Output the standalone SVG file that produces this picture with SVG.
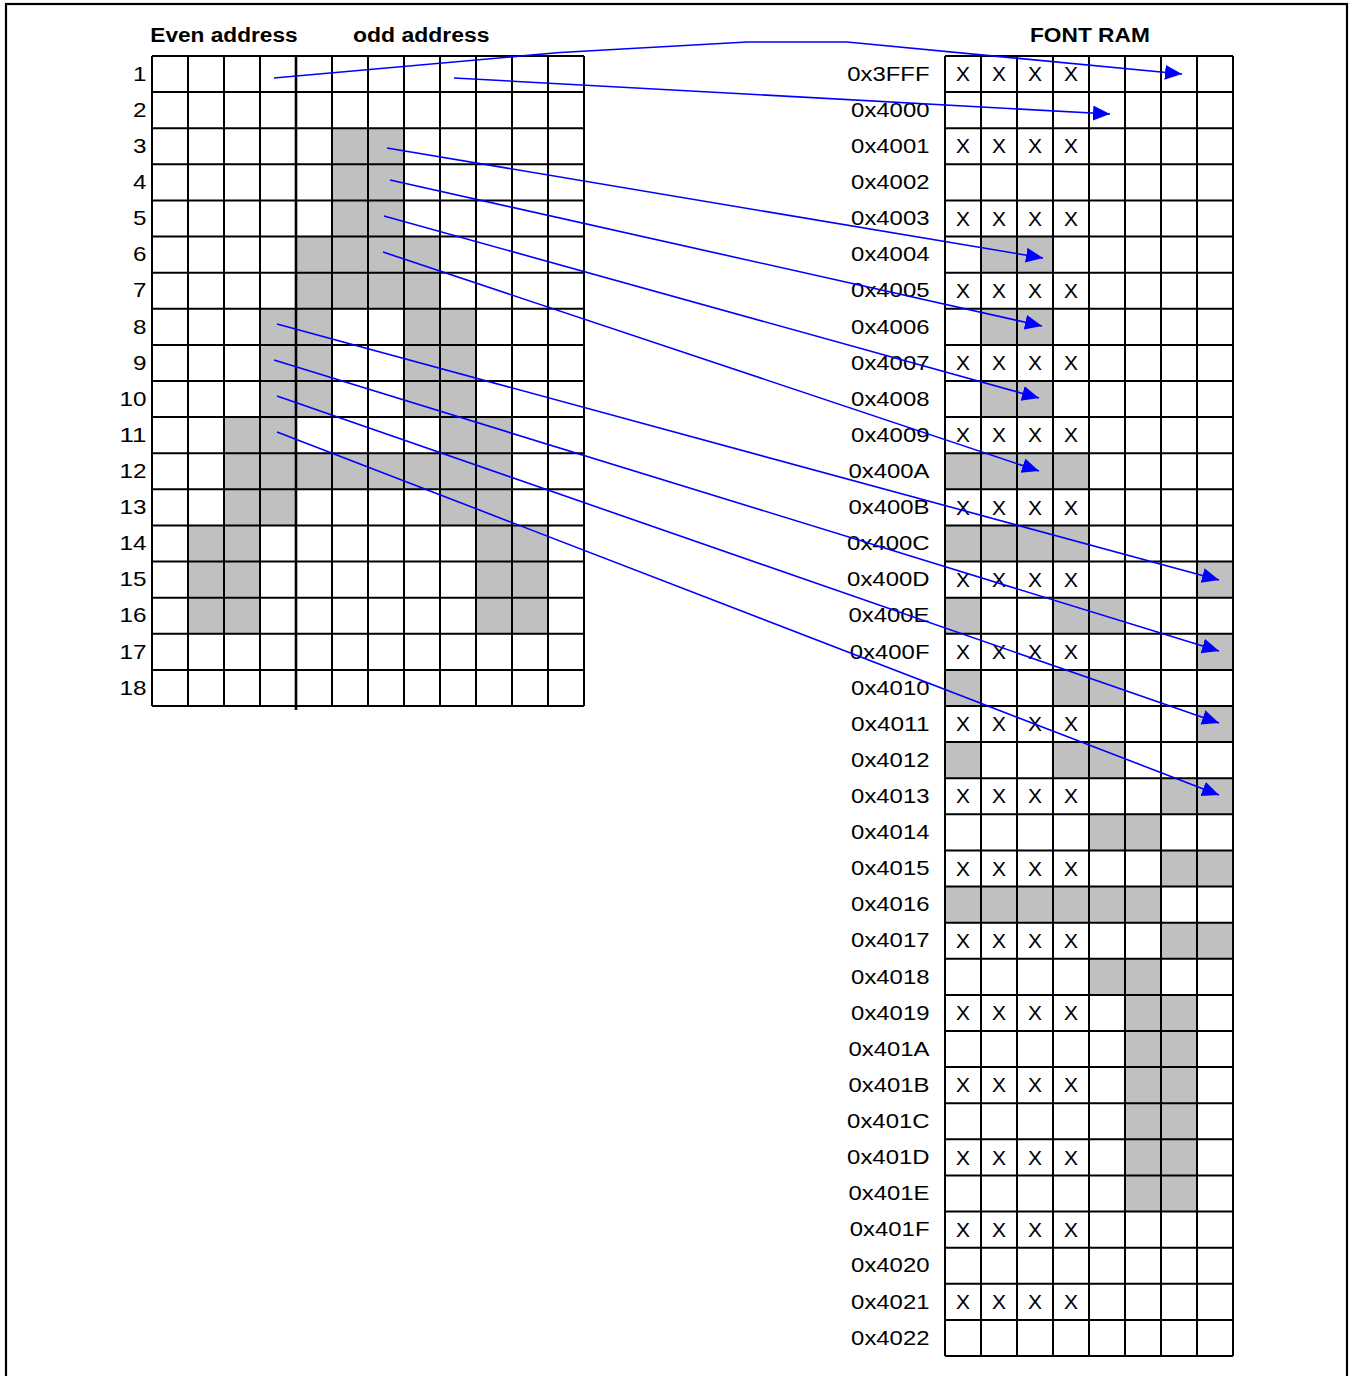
<svg xmlns="http://www.w3.org/2000/svg" width="1353" height="1376" viewBox="0 0 1353 1376">
<style>
.grid{fill:none;stroke:#000;stroke-width:2}
.div{fill:none;stroke:#000;stroke-width:2.6}
.on{fill:#C0C0C0;stroke:none}
.t{font-family:"Liberation Sans",Arial,sans-serif;font-size:21px;fill:#000}
.lab{text-anchor:end}
.xm{text-anchor:middle}
.h{font-family:"Liberation Sans",Arial,sans-serif;font-size:19.5px;font-weight:bold;fill:#000}
.arr{fill:none;stroke:#0000FF;stroke-width:1.6;marker-end:url(#ah)}
</style>
<defs>
<marker id="ah" markerUnits="userSpaceOnUse" markerWidth="18" markerHeight="16" refX="17" refY="7.5" orient="auto">
<path d="M0,0 L17,7.5 L0,15 z" fill="#0000FF"/>
</marker>
</defs>
<rect x="0" y="0" width="1353" height="1376" fill="#fff"/>
<rect id="frame" x="6" y="4" width="1341" height="1392" fill="none" stroke="#000" stroke-width="2.2"/>

<g id="titles">
<text class="h" x="150.3" y="41.5" textLength="147.4" lengthAdjust="spacingAndGlyphs">Even address</text>
<text class="h" x="353" y="41.5" textLength="136.6" lengthAdjust="spacingAndGlyphs">odd address</text>
<text class="h" x="1030" y="41.5" textLength="119.8" lengthAdjust="spacingAndGlyphs">FONT RAM</text>
</g>

<g id="glyph-grid">
<g id="glyph-cells">
<rect class="on" x="332" y="128.22" width="72" height="108.34"/>
<rect class="on" x="296" y="236.56" width="144" height="72.22"/>
<rect class="on" x="260" y="308.78" width="72" height="108.33"/>
<rect class="on" x="404" y="308.78" width="72" height="108.33"/>
<rect class="on" x="224" y="417.11" width="72" height="108.33"/>
<rect class="on" x="440" y="417.11" width="72" height="108.33"/>
<rect class="on" x="296" y="453.22" width="144" height="36.11"/>
<rect class="on" x="188" y="525.44" width="72" height="108.34"/>
<rect class="on" x="476" y="525.44" width="72" height="108.34"/>
</g>
<path class="grid" d="M152,56V706M188,56V706M224,56V706M260,56V706M332,56V706M368,56V706M404,56V706M440,56V706M476,56V706M512,56V706M548,56V706M584,56V706
M152,56H584M152,92.11H584M152,128.22H584M152,164.33H584M152,200.44H584M152,236.56H584M152,272.67H584M152,308.78H584M152,344.89H584M152,381H584M152,417.11H584M152,453.22H584M152,489.33H584M152,525.44H584M152,561.56H584M152,597.67H584M152,633.78H584M152,669.89H584M152,706H584"/>
<path class="div" d="M296,56V710"/>
<g id="row-numbers">
<text class="t lab" x="146.5" y="80.7" textLength="13.5" lengthAdjust="spacingAndGlyphs">1</text>
<text class="t lab" x="146.5" y="116.8" textLength="13.5" lengthAdjust="spacingAndGlyphs">2</text>
<text class="t lab" x="146.5" y="152.9" textLength="13.5" lengthAdjust="spacingAndGlyphs">3</text>
<text class="t lab" x="146.5" y="189" textLength="13.5" lengthAdjust="spacingAndGlyphs">4</text>
<text class="t lab" x="146.5" y="225.1" textLength="13.5" lengthAdjust="spacingAndGlyphs">5</text>
<text class="t lab" x="146.5" y="261.3" textLength="13.5" lengthAdjust="spacingAndGlyphs">6</text>
<text class="t lab" x="146.5" y="297.4" textLength="13.5" lengthAdjust="spacingAndGlyphs">7</text>
<text class="t lab" x="146.5" y="333.5" textLength="13.5" lengthAdjust="spacingAndGlyphs">8</text>
<text class="t lab" x="146.5" y="369.6" textLength="13.5" lengthAdjust="spacingAndGlyphs">9</text>
<text class="t lab" x="146.5" y="405.7" textLength="27" lengthAdjust="spacingAndGlyphs">10</text>
<text class="t lab" x="146.5" y="441.8" textLength="27" lengthAdjust="spacingAndGlyphs">11</text>
<text class="t lab" x="146.5" y="477.9" textLength="27" lengthAdjust="spacingAndGlyphs">12</text>
<text class="t lab" x="146.5" y="514" textLength="27" lengthAdjust="spacingAndGlyphs">13</text>
<text class="t lab" x="146.5" y="550.1" textLength="27" lengthAdjust="spacingAndGlyphs">14</text>
<text class="t lab" x="146.5" y="586.3" textLength="27" lengthAdjust="spacingAndGlyphs">15</text>
<text class="t lab" x="146.5" y="622.4" textLength="27" lengthAdjust="spacingAndGlyphs">16</text>
<text class="t lab" x="146.5" y="658.5" textLength="27" lengthAdjust="spacingAndGlyphs">17</text>
<text class="t lab" x="146.5" y="694.6" textLength="27" lengthAdjust="spacingAndGlyphs">18</text>
</g>
</g>

<g id="font-ram">
<g id="ram-cells">
<rect class="on" x="981" y="236.56" width="72" height="36.11"/>
<rect class="on" x="981" y="308.78" width="72" height="36.11"/>
<rect class="on" x="981" y="381" width="72" height="36.11"/>
<rect class="on" x="945" y="453.22" width="144" height="36.11"/>
<rect class="on" x="945" y="525.44" width="144" height="36.12"/>
<rect class="on" x="1197" y="561.56" width="36" height="36.11"/>
<rect class="on" x="945" y="597.67" width="36" height="36.11"/>
<rect class="on" x="1053" y="597.67" width="72" height="36.11"/>
<rect class="on" x="1197" y="633.78" width="36" height="36.11"/>
<rect class="on" x="945" y="669.89" width="36" height="36.11"/>
<rect class="on" x="1053" y="669.89" width="72" height="36.11"/>
<rect class="on" x="1197" y="706" width="36" height="36.11"/>
<rect class="on" x="945" y="742.11" width="36" height="36.11"/>
<rect class="on" x="1053" y="742.11" width="72" height="36.11"/>
<rect class="on" x="1161" y="778.22" width="72" height="36.11"/>
<rect class="on" x="1089" y="814.33" width="72" height="36.11"/>
<rect class="on" x="1161" y="850.44" width="72" height="36.12"/>
<rect class="on" x="945" y="886.56" width="216" height="36.11"/>
<rect class="on" x="1161" y="922.67" width="72" height="36.11"/>
<rect class="on" x="1089" y="958.78" width="72" height="36.11"/>
<rect class="on" x="1125" y="994.89" width="72" height="216.67"/>
</g>
<path class="grid" d="M945,56V1356M981,56V1356M1017,56V1356M1053,56V1356M1089,56V1356M1125,56V1356M1161,56V1356M1197,56V1356M1233,56V1356
M945,56H1233M945,92.11H1233M945,128.22H1233M945,164.33H1233M945,200.44H1233M945,236.56H1233M945,272.67H1233M945,308.78H1233M945,344.89H1233M945,381H1233M945,417.11H1233M945,453.22H1233M945,489.33H1233M945,525.44H1233M945,561.56H1233M945,597.67H1233M945,633.78H1233M945,669.89H1233M945,706H1233M945,742.11H1233M945,778.22H1233M945,814.33H1233M945,850.44H1233M945,886.56H1233M945,922.67H1233M945,958.78H1233M945,994.89H1233M945,1031H1233M945,1067.11H1233M945,1103.22H1233M945,1139.33H1233M945,1175.44H1233M945,1211.56H1233M945,1247.67H1233M945,1283.78H1233M945,1319.89H1233M945,1356H1233"/>
<g id="addresses">
<text class="t lab" x="929.5" y="80.7" textLength="82.3" lengthAdjust="spacingAndGlyphs">0x3FFF</text>
<text class="t lab" x="929.5" y="116.8" textLength="78.4" lengthAdjust="spacingAndGlyphs">0x4000</text>
<text class="t lab" x="929.5" y="152.9" textLength="78.4" lengthAdjust="spacingAndGlyphs">0x4001</text>
<text class="t lab" x="929.5" y="189" textLength="78.4" lengthAdjust="spacingAndGlyphs">0x4002</text>
<text class="t lab" x="929.5" y="225.1" textLength="78.4" lengthAdjust="spacingAndGlyphs">0x4003</text>
<text class="t lab" x="929.5" y="261.3" textLength="78.4" lengthAdjust="spacingAndGlyphs">0x4004</text>
<text class="t lab" x="929.5" y="297.4" textLength="78.4" lengthAdjust="spacingAndGlyphs">0x4005</text>
<text class="t lab" x="929.5" y="333.5" textLength="78.4" lengthAdjust="spacingAndGlyphs">0x4006</text>
<text class="t lab" x="929.5" y="369.6" textLength="78.4" lengthAdjust="spacingAndGlyphs">0x4007</text>
<text class="t lab" x="929.5" y="405.7" textLength="78.4" lengthAdjust="spacingAndGlyphs">0x4008</text>
<text class="t lab" x="929.5" y="441.8" textLength="78.4" lengthAdjust="spacingAndGlyphs">0x4009</text>
<text class="t lab" x="929.5" y="477.9" textLength="81" lengthAdjust="spacingAndGlyphs">0x400A</text>
<text class="t lab" x="929.5" y="514" textLength="81" lengthAdjust="spacingAndGlyphs">0x400B</text>
<text class="t lab" x="929.5" y="550.1" textLength="82.4" lengthAdjust="spacingAndGlyphs">0x400C</text>
<text class="t lab" x="929.5" y="586.3" textLength="82.4" lengthAdjust="spacingAndGlyphs">0x400D</text>
<text class="t lab" x="929.5" y="622.4" textLength="81" lengthAdjust="spacingAndGlyphs">0x400E</text>
<text class="t lab" x="929.5" y="658.5" textLength="79.7" lengthAdjust="spacingAndGlyphs">0x400F</text>
<text class="t lab" x="929.5" y="694.6" textLength="78.4" lengthAdjust="spacingAndGlyphs">0x4010</text>
<text class="t lab" x="929.5" y="730.7" textLength="78.4" lengthAdjust="spacingAndGlyphs">0x4011</text>
<text class="t lab" x="929.5" y="766.8" textLength="78.4" lengthAdjust="spacingAndGlyphs">0x4012</text>
<text class="t lab" x="929.5" y="802.9" textLength="78.4" lengthAdjust="spacingAndGlyphs">0x4013</text>
<text class="t lab" x="929.5" y="839" textLength="78.4" lengthAdjust="spacingAndGlyphs">0x4014</text>
<text class="t lab" x="929.5" y="875.1" textLength="78.4" lengthAdjust="spacingAndGlyphs">0x4015</text>
<text class="t lab" x="929.5" y="911.3" textLength="78.4" lengthAdjust="spacingAndGlyphs">0x4016</text>
<text class="t lab" x="929.5" y="947.4" textLength="78.4" lengthAdjust="spacingAndGlyphs">0x4017</text>
<text class="t lab" x="929.5" y="983.5" textLength="78.4" lengthAdjust="spacingAndGlyphs">0x4018</text>
<text class="t lab" x="929.5" y="1019.6" textLength="78.4" lengthAdjust="spacingAndGlyphs">0x4019</text>
<text class="t lab" x="929.5" y="1055.7" textLength="81" lengthAdjust="spacingAndGlyphs">0x401A</text>
<text class="t lab" x="929.5" y="1091.8" textLength="81" lengthAdjust="spacingAndGlyphs">0x401B</text>
<text class="t lab" x="929.5" y="1127.9" textLength="82.4" lengthAdjust="spacingAndGlyphs">0x401C</text>
<text class="t lab" x="929.5" y="1164" textLength="82.4" lengthAdjust="spacingAndGlyphs">0x401D</text>
<text class="t lab" x="929.5" y="1200.1" textLength="81" lengthAdjust="spacingAndGlyphs">0x401E</text>
<text class="t lab" x="929.5" y="1236.3" textLength="79.7" lengthAdjust="spacingAndGlyphs">0x401F</text>
<text class="t lab" x="929.5" y="1272.4" textLength="78.4" lengthAdjust="spacingAndGlyphs">0x4020</text>
<text class="t lab" x="929.5" y="1308.5" textLength="78.4" lengthAdjust="spacingAndGlyphs">0x4021</text>
<text class="t lab" x="929.5" y="1344.6" textLength="78.4" lengthAdjust="spacingAndGlyphs">0x4022</text>
</g>
<g id="x-marks" class="t xm">
<text x="963 999 1035 1071" y="81.2">XXXX</text>
<text x="963 999 1035 1071" y="153.4">XXXX</text>
<text x="963 999 1035 1071" y="225.6">XXXX</text>
<text x="963 999 1035 1071" y="297.9">XXXX</text>
<text x="963 999 1035 1071" y="370.1">XXXX</text>
<text x="963 999 1035 1071" y="442.3">XXXX</text>
<text x="963 999 1035 1071" y="514.5">XXXX</text>
<text x="963 999 1035 1071" y="586.8">XXXX</text>
<text x="963 999 1035 1071" y="659">XXXX</text>
<text x="963 999 1035 1071" y="731.2">XXXX</text>
<text x="963 999 1035 1071" y="803.4">XXXX</text>
<text x="963 999 1035 1071" y="875.6">XXXX</text>
<text x="963 999 1035 1071" y="947.9">XXXX</text>
<text x="963 999 1035 1071" y="1020.1">XXXX</text>
<text x="963 999 1035 1071" y="1092.3">XXXX</text>
<text x="963 999 1035 1071" y="1164.5">XXXX</text>
<text x="963 999 1035 1071" y="1236.8">XXXX</text>
<text x="963 999 1035 1071" y="1309">XXXX</text>
</g>
</g>

<g id="connectors">
<path class="arr" d="M274,78 L560,52.5 L747,42 L847,42 L1182,74"/>
<path class="arr" d="M454,78 L1110,114"/>
<path class="arr" d="M387,148 L1043,258"/>
<path class="arr" d="M390,180 L1042,326"/>
<path class="arr" d="M384,216 L1039,398"/>
<path class="arr" d="M383,252 L1039,471"/>
<path class="arr" d="M277,324 L1219,580"/>
<path class="arr" d="M274,360 L1219,651"/>
<path class="arr" d="M277,396 L1219,723"/>
<path class="arr" d="M277,432 L1219,795"/>
</g>
</svg>
